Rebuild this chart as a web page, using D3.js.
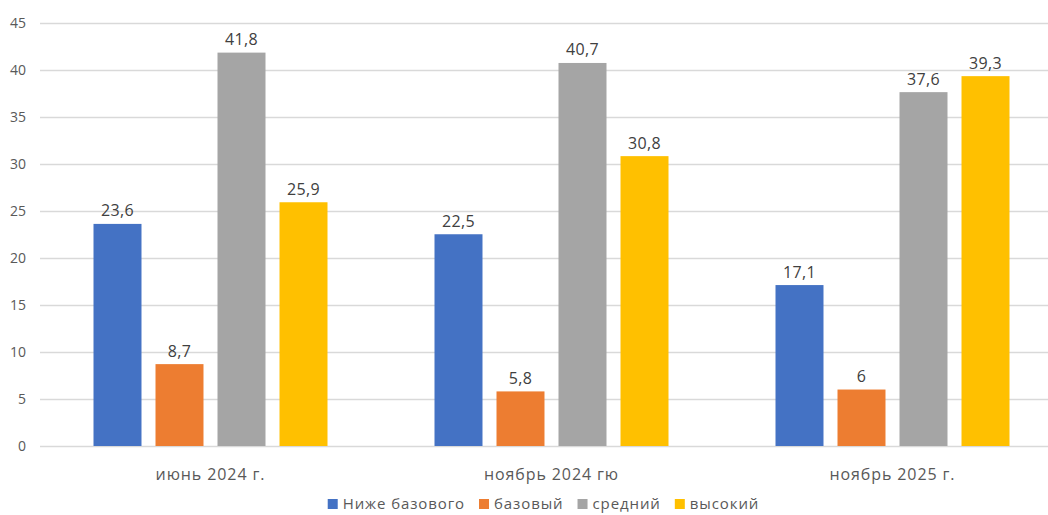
<!DOCTYPE html>
<html lang="ru">
<head>
<meta charset="utf-8">
<title>Уровни</title>
<script src="https://cdn.jsdelivr.net/npm/d3@7"></script>
<style>
  body { margin: 0; background: #fff; }
  text { font-family: "Open Sans", "Noto Sans", sans-serif; }
</style>
</head>
<body>
<script>
// data
var categories = ["июнь 2024 г.", "ноябрь 2024 гю", "ноябрь 2025 г."]
var seriesNames = ["Ниже базового", "базовый", "средний", "высокий"]
var belowBasic = [23.6, 22.5, 17.1]
var basic = [8.7, 5.8, 6]
var medium = [41.8, 40.7, 37.6]
var high = [25.9, 30.8, 39.3]
var yTicks = [0, 5, 10, 15, 20, 25, 30, 35, 40, 45]
var colors = ["#4472c4", "#ed7d31", "#a5a5a5", "#ffc000"]

var seriesValues = [belowBasic, basic, medium, high]

var w = 1048, h = 515
var svg = d3.select("body").append("svg").attr("width", w).attr("height", h)

// group scale runs a little past the right edge, like the cropped original
var x0 = d3.scaleBand().domain(categories).range([40, 1063])
var x1 = d3.scaleBand().domain(seriesNames)
    .range([53.5, x0.bandwidth() - 53.5])
    .paddingInner(0.226)
var y = d3.scaleLinear().domain([0, 45]).range([446, 22.5])

// gridlines
svg.append("g").selectAll("line")
    .data(yTicks)
    .enter().append("line")
    .attr("x1", 40).attr("x2", w)
    .attr("y1", function(d) { return Math.round(y(d)) + 0.5 })
    .attr("y2", function(d) { return Math.round(y(d)) + 0.5 })
    .attr("stroke", "#d9d9d9")
    .attr("stroke-width", 1.3)

// y tick labels
svg.append("g").selectAll("text")
    .data(yTicks)
    .enter().append("text")
    .attr("x", 26)
    .attr("y", function(d) { return y(d) + 5 })
    .attr("text-anchor", "end")
    .attr("font-size", 14)
    .attr("fill", "#595959")
    .text(function(d) { return d })

// bars
var groups = svg.append("g").selectAll("g")
    .data(categories)
    .enter().append("g")
    .attr("transform", function(d) { return "translate(" + x0(d) + ",0)" })

var cells = groups.selectAll("g")
    .data(function(c, ci) {
        return seriesNames.map(function(s, si) {
            return { series: s, idx: si, value: seriesValues[si][ci] }
        })
    })
    .enter().append("g")

cells.append("rect")
    .attr("x", function(d) { return x1(d.series) })
    .attr("width", x1.bandwidth())
    .attr("y", function(d) { return y(d.value) })
    .attr("height", function(d) { return y(0) - y(d.value) })
    .attr("fill", function(d) { return colors[d.idx] })

// value labels, comma decimal
cells.append("text")
    .attr("x", function(d) { return x1(d.series) + x1.bandwidth() / 2 })
    .attr("y", function(d) { return y(d.value) - 7.5 })
    .attr("text-anchor", "middle")
    .attr("font-size", 16)
    .attr("letter-spacing", 0.3)
    .attr("fill", "#404040")
    .text(function(d) { return String(d.value).replace(".", ",") })

// category labels
svg.append("g").selectAll("text")
    .data(categories)
    .enter().append("text")
    .attr("x", function(d) { return x0(d) + x0.bandwidth() / 2 })
    .attr("y", 480)
    .attr("text-anchor", "middle")
    .attr("font-size", 16)
    .attr("fill", "#595959")
    .attr("letter-spacing", 0.9)
    .text(function(d) { return d })

// legend, laid out from measured text widths and centred
var legend = svg.append("g")
var items = legend.selectAll("g")
    .data(seriesNames)
    .enter().append("g")
items.append("rect")
    .attr("width", 10).attr("height", 10)
    .attr("y", 499)
    .attr("fill", function(d, i) { return colors[i] })
items.append("text")
    .attr("x", 15)
    .attr("y", 509)
    .attr("font-size", 15)
    .attr("fill", "#595959")
    .attr("letter-spacing", 0.9)
    .text(function(d) { return d })

var offs = 0
items.each(function() {
    var g = d3.select(this)
    g.attr("transform", "translate(" + offs + ",0)")
    offs += 15 + g.select("text").node().getComputedTextLength() + 14
})
var total = offs - 14
legend.attr("transform", "translate(" + (543.5 - total / 2) + ",0)")
</script>
</body>
</html>
